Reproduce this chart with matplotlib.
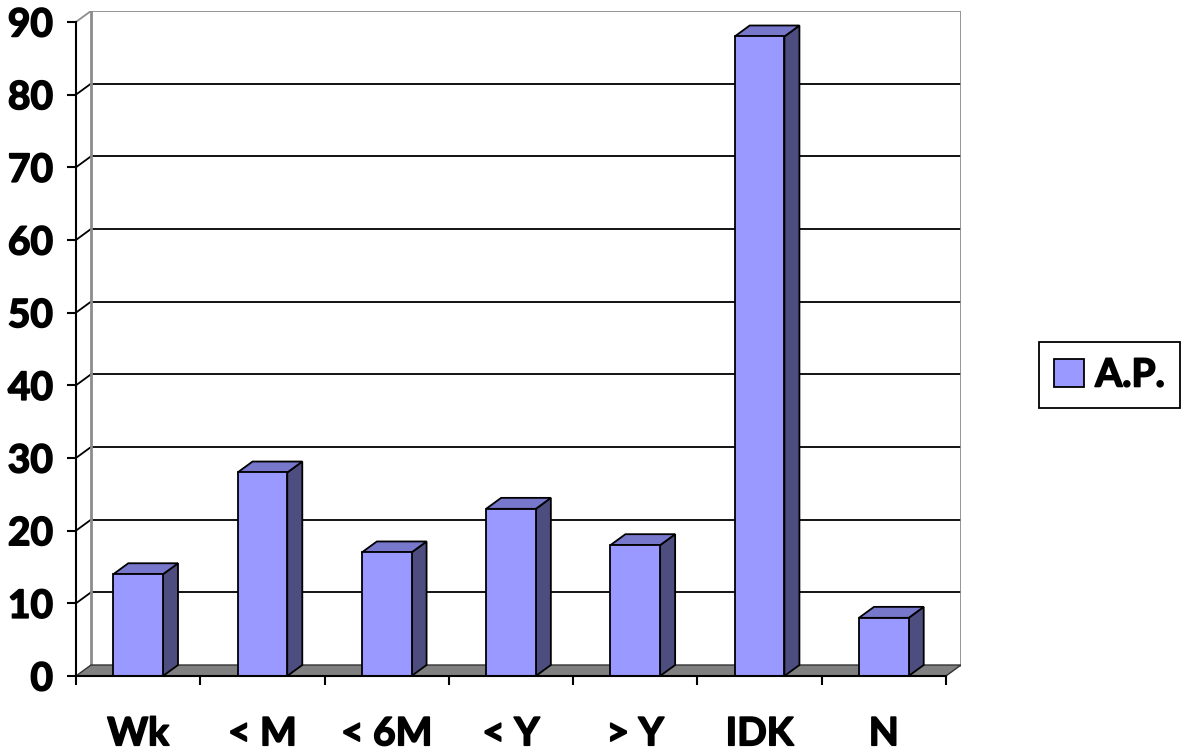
import matplotlib
matplotlib.use("Agg")
import matplotlib.pyplot as plt
import matplotlib.patheffects as pe
from matplotlib.patches import Polygon, Patch

categories = ["Wk", "< M", "< 6M", "< Y", "> Y", "IDK", "N"]
values = [14, 28, 17, 23, 18, 88, 8]
series_name = "A.P."
yticks = list(range(0, 100, 10))

FRONT = "#9999FF"
TOP = "#7777CC"
SIDE = "#4D4D80"
FLOOR = "#808080"
WALL = "#8C8C8C"

plt.rcParams["font.family"] = ["Lato", "DejaVu Sans"]
plt.rcParams["font.weight"] = "bold"

fig = plt.figure(figsize=(11.87, 7.51), dpi=100)
ax = fig.add_axes([0.0640, 0.0999, 0.8096 - 0.0640, 0.9854 - 0.0999])

n = len(categories)
ddx = 0.121   # depth offset along x (category units)
ddy = 1.51    # depth offset along y (value units)
half = 0.20   # half width of bar front

ax.set_xlim(-0.5, n - 0.5 + ddx)
ax.set_ylim(0, 90 + ddy)

# back wall + gridlines
for v in yticks[1:]:
    c = WALL if v == 90 else "black"
    ax.plot([-0.5 + ddx, n - 0.5 + ddx], [v + ddy, v + ddy], color=c, lw=1.3, zorder=1)
    ax.plot([-0.5, -0.5 + ddx], [v, v + ddy], color=c, lw=1.3, zorder=1)
ax.plot([-0.5 + ddx, -0.5 + ddx], [ddy, 90 + ddy], color=WALL, lw=2, zorder=1)
ax.plot([n - 0.5 + ddx, n - 0.5 + ddx], [ddy, 90 + ddy], color=WALL, lw=2, zorder=1)

# floor
ax.add_patch(Polygon([(-0.5, 0), (n - 0.5, 0), (n - 0.5 + ddx, ddy), (-0.5 + ddx, ddy)],
                     closed=True, facecolor=FLOOR, edgecolor="#333333", lw=1, zorder=2))

# 3d bars
for i, v in enumerate(values):
    l, r = i - half, i + half
    ax.add_patch(Polygon([(r, 0), (r + ddx, ddy), (r + ddx, v + ddy), (r, v)],
                         closed=True, facecolor=SIDE, edgecolor="black", lw=1.3, zorder=3))
    ax.add_patch(Polygon([(l, v), (r, v), (r + ddx, v + ddy), (l + ddx, v + ddy)],
                         closed=True, facecolor=TOP, edgecolor="black", lw=1.3, zorder=3))
    ax.add_patch(Polygon([(l, 0), (r, 0), (r, v), (l, v)],
                         closed=True, facecolor=FRONT, edgecolor="black", lw=1.3, zorder=4))

# axes
for s in ["top", "right"]:
    ax.spines[s].set_visible(False)
ax.spines["left"].set_bounds(0, 90)
ax.spines["bottom"].set_bounds(-0.5, n - 0.5)
ax.spines["left"].set_linewidth(1.5)
ax.spines["bottom"].set_linewidth(1.5)
ax.spines["left"].set_zorder(5)
ax.spines["bottom"].set_zorder(5)

ax.set_yticks(yticks)
ax.set_yticklabels([str(t) for t in yticks])
ax.tick_params(axis="y", direction="out", length=6.5, width=1.5, pad=10, labelsize=28)

ax.set_xticks([i - 0.5 for i in range(n + 1)])
ax.set_xticklabels([])
ax.set_xticks(range(n), minor=True)
ax.set_xticklabels(categories, minor=True)
ax.tick_params(axis="x", which="major", direction="out", length=6.5, width=1.5)
ax.tick_params(axis="x", which="minor", length=0, pad=29, labelsize=28)

bold = [pe.withStroke(linewidth=1.2, foreground="black")]
for lab in ax.get_yticklabels() + ax.get_xticklabels(minor=True):
    lab.set_fontweight("bold")
    lab.set_path_effects(bold)

leg = fig.legend(handles=[Patch(facecolor=FRONT, edgecolor="black", lw=1.3, label=series_name)],
                 loc="center", bbox_to_anchor=(0.9347, 0.5007), fancybox=False,
                 edgecolor="black", prop={"size": 28, "weight": "bold"},
                 handlelength=0.75, handleheight=0.75, handletextpad=0.3, borderpad=0.4,
                 framealpha=1)
leg.get_frame().set_linewidth(1.3)
for t in leg.get_texts():
    t.set_path_effects(bold)

fig.savefig("out.png", dpi=100)
